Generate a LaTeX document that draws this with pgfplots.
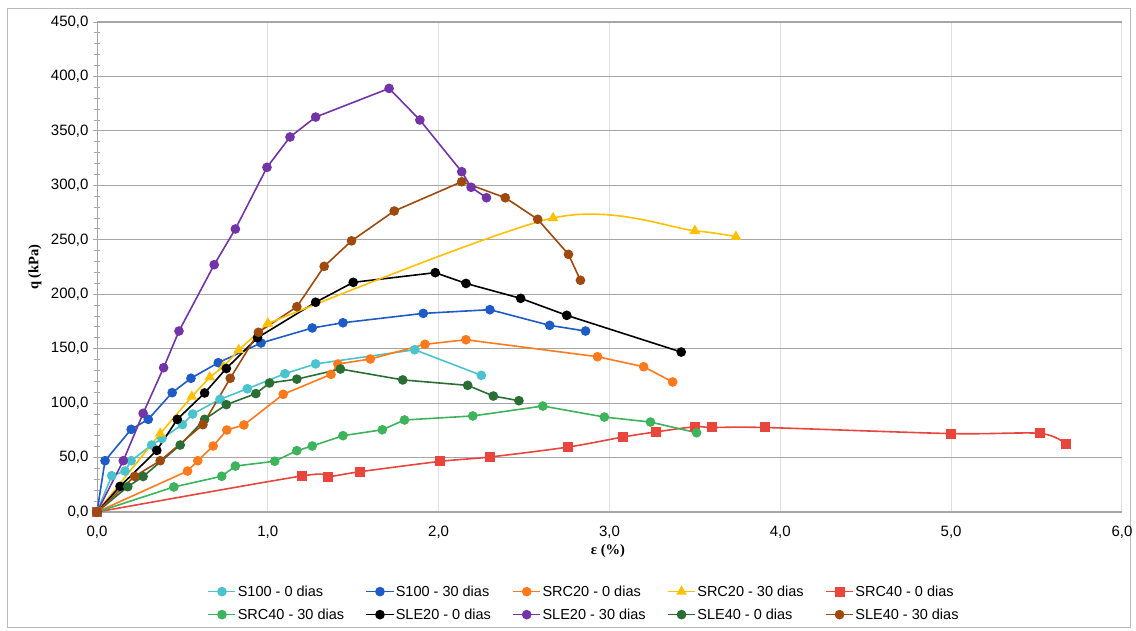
\documentclass[border=0pt]{standalone}
\usepackage{pgfplots}
\pgfplotsset{compat=1.18}
\usepackage{fontspec}
\setmainfont{Liberation Sans}
\newfontfamily\serifb{Liberation Serif}
\definecolor{cSa}{HTML}{4BC3CF}
\definecolor{cSb}{HTML}{1F5BC6}
\definecolor{cRa}{HTML}{FF7A1C}
\definecolor{cRb}{HTML}{FFC000}
\definecolor{cRc}{HTML}{E8453C}
\definecolor{cRd}{HTML}{3DB35C}
\definecolor{cLa}{HTML}{000000}
\definecolor{cLb}{HTML}{7334A8}
\definecolor{cLc}{HTML}{2A6E36}
\definecolor{cLd}{HTML}{9E4A0E}
\begin{document}
\begin{tikzpicture}
\path[use as bounding box] (0pt,0pt) rectangle (1136pt,631pt);
\draw[gray!55, line width=0.8pt] (7pt,4pt) rectangle (1130pt,623pt);
\begin{axis}[
  at={(97pt,119pt)}, anchor=south west,
  scale only axis, width=1025pt, height=490pt,
  xmin=0, xmax=6, ymin=0, ymax=450,
  axis x line=bottom, axis y line=left,
  axis line style={-, draw=gray!70, line width=0.8pt},
  xtick={0,1,...,6}, ytick={0,50,...,450},
  minor y tick num=4,
  tick align=center,
  major tick length=8pt, minor tick length=6pt,
  y tick style={draw=gray!70, line width=0.8pt},
  x tick style={draw=none},
  xmajorgrids, ymajorgrids,
  x grid style={gray!25, line width=0.9pt},
  y grid style={gray!70, line width=1.1pt},
  ticklabel style={font=\fontsize{15}{17}\selectfont},
  xticklabel style={/pgf/number format/fixed, /pgf/number format/fixed zerofill, /pgf/number format/precision=1, /pgf/number format/use comma, /pgf/number format/assume math mode=true, yshift=-6pt},
  yticklabel style={/pgf/number format/fixed, /pgf/number format/fixed zerofill, /pgf/number format/precision=1, /pgf/number format/use comma, /pgf/number format/assume math mode=true, xshift=-1pt},
  xlabel={\serifb\bfseries ε (\%)},
  ylabel={\serifb\bfseries q (kPa)},
  xlabel style={at={(axis description cs:0.4985,-0.0796)}, anchor=center, font=\fontsize{14.5}{16}\selectfont},
  ylabel style={at={(axis description cs:-0.0605,0.5)}, anchor=center, font=\fontsize{14.5}{16}\selectfont},
  every axis plot/.append style={line width=1.6pt},
  legend columns=5,
  legend cell align=left,
  legend style={at={(axis description cs:0.475,-0.186)}, anchor=center, draw=none, fill=none,
    font=\fontsize{14.5}{16}\selectfont, row sep=7pt, nodes={inner xsep=1.5pt},
    /tikz/every even column/.append style={column sep=20pt}},
  legend image code/.code={\draw[mark repeat=2,mark phase=2] plot coordinates {(0cm,0cm) (0.475cm,0cm) (0.95cm,0cm)};},
]
\addplot[color=cSa, mark=*, mark size=4pt] coordinates {
(0,0) (0.086,33.3) (0.164,37.6) (0.20,47.1) (0.32,61.5) (0.38,67.5) (0.50,80.3) (0.56,90) (0.72,103.5) (0.88,113.2) (1.10,127) (1.28,136) (1.86,149) (2.25,125.5)};
\addlegendentry{S100 - 0 dias}
\addplot[color=cSb, mark=*, mark size=4pt] coordinates {
(0,0) (0.047,47.1) (0.20,75.9) (0.30,85.1) (0.44,109.6) (0.55,122.8) (0.71,137.1) (0.96,155.2) (1.26,169) (1.44,173.8) (1.91,182.4) (2.30,185.8) (2.65,171.4) (2.86,166.2)};
\addlegendentry{S100 - 30 dias}
\addplot[color=cRa, mark=*, mark size=4pt] coordinates {
(0,0) (0.53,37.6) (0.59,47.1) (0.68,60.6) (0.76,75.3) (0.86,79.9) (1.09,108.1) (1.37,126.4) (1.41,135.9) (1.60,140.5) (1.92,154) (2.16,158.2) (2.93,142.6) (3.20,133.4) (3.37,119.4)};
\addlegendentry{SRC20 - 0 dias}
\addplot[color=cRb, mark=triangle*, mark size=4.6pt] coordinates {
(0,0) (0.37,72) (0.555,106) (0.66,123.7) (0.74,133.4) (0.83,148.8) (1.0,173)};
\addlegendentry{SRC20 - 30 dias}
\addplot[color=cRc, mark=square*, mark size=4.2pt, smooth] coordinates {
(0,0) (1.20,33.1) (1.35,32.4) (1.54,37) (2.01,46.5) (2.30,50.5) (2.76,59.7) (3.08,68.9) (3.27,73.5) (3.50,78.3) (3.60,77.6) (3.91,77.6) (5.00,72) (5.52,72.2) (5.67,62.7)};
\addlegendentry{SRC40 - 0 dias}
\addplot[color=cRd, mark=*, mark size=4pt] coordinates {
(0,0) (0.45,23) (0.73,32.8) (0.81,42.2) (1.04,46.6) (1.17,56.3) (1.26,60.6) (1.44,70.1) (1.67,75.5) (1.80,84.5) (2.20,88.2) (2.61,97.3) (2.97,87.2) (3.24,82.6) (3.51,72.8)};
\addlegendentry{SRC40 - 30 dias}
\addplot[color=cLa, mark=*, mark size=4pt] coordinates {
(0,0) (0.135,23.5) (0.35,56.6) (0.47,85.1) (0.63,109.3) (0.757,131.8) (0.94,160.1) (1.28,192.6) (1.50,210.9) (1.98,219.8) (2.16,209.9) (2.48,196.2) (2.75,180.6) (3.42,146.9)};
\addlegendentry{SLE20 - 0 dias}
\addplot[color=cLb, mark=*, mark size=4pt] coordinates {
(0,0) (0.154,47.1) (0.27,90.6) (0.39,132.5) (0.48,166.2) (0.686,227.1) (0.81,259.9) (0.995,316.5) (1.13,344.4) (1.28,362.7) (1.71,389) (1.89,360) (2.135,312.5) (2.19,298.2) (2.28,288.6)};
\addlegendentry{SLE20 - 30 dias}
\addplot[color=cLc, mark=*, mark size=4pt] coordinates {
(0,0) (0.18,23.2) (0.27,32.6) (0.487,61.5) (0.63,85.1) (0.757,98.6) (0.93,108.7) (1.01,118.5) (1.17,122) (1.425,131.3) (1.79,121.3) (2.17,116.3) (2.32,106.5) (2.47,102.2)};
\addlegendentry{SLE40 - 0 dias}
\addplot[color=cLd, mark=*, mark size=4pt] coordinates {
(0,0) (0.22,32.7) (0.37,47.1) (0.62,80.2) (0.78,122.8) (0.945,165) (1.17,188.5) (1.33,225.6) (1.49,249) (1.74,276.4) (2.135,303.3) (2.39,288.6) (2.58,268.8) (2.76,236.6) (2.83,212.8)};
\addlegendentry{SLE40 - 30 dias}
\addplot[color=cRb, mark=triangle*, mark size=4.6pt, smooth, forget plot] coordinates {
(1.0,173) (2.67,270) (3.50,258.3) (3.74,252.8)};
\end{axis}
\end{tikzpicture}
\end{document}
